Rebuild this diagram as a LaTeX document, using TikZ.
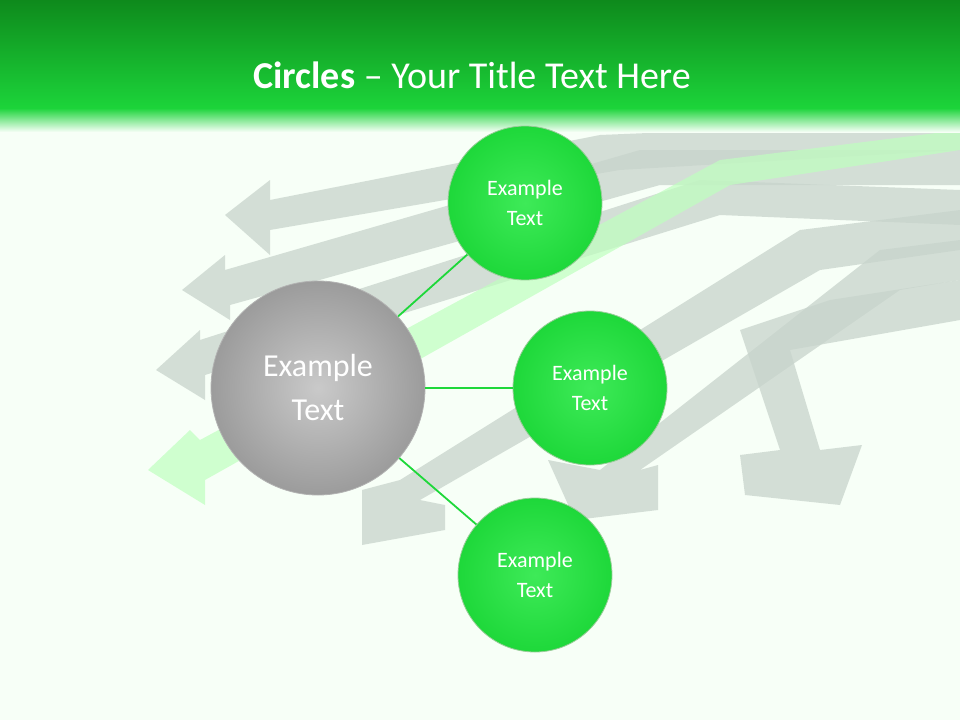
\documentclass[tikz,border=0pt]{standalone}
\usepackage{fontspec}
\setmainfont{Carlito}
\definecolor{gmain}{HTML}{1ED83A}
\definecolor{glight}{HTML}{3EEA58}
\definecolor{gtop}{HTML}{0E8A1C}
\definecolor{gband}{HTML}{1CD43A}
\definecolor{bargray}{HTML}{C8D4CC}
\begin{document}
\begin{tikzpicture}[x=1pt,y=-1pt,
  bar/.style={fill=bargray,opacity=0.75},
  gc/.style={circle,minimum size=154pt,draw=green!50!black!40,line width=0.8pt,inner color=glight,outer color=gmain,text=white,font=\fontsize{22}{30}\selectfont,align=center},
  link/.style={draw=gmain,line width=1.8pt}]
\useasboundingbox (0,0) rectangle (960,720);
\fill[green!3] (0,0) rectangle (960,720);
% decorative arrows
\fill[bar] (270,200) -- (600,135) -- (960,120) -- (960,150) -- (620,170) -- (270,230) -- (270,255) -- (225,215) -- (270,180) -- cycle;
\fill[bar] (225,270) -- (640,150) -- (960,150) -- (960,185) -- (660,185) -- (230,305) -- (230,320) -- (182,290) -- (225,255) -- cycle;
\fill[bar] (200,340) -- (700,180) -- (960,190) -- (960,225) -- (720,215) -- (205,375) -- (205,400) -- (156,370) -- (200,330) -- cycle;
\fill[green!25,opacity=0.7] (200,440) -- (720,160) -- (960,130) -- (960,150) -- (730,185) -- (205,480) -- (205,505) -- (148,470) -- (190,430) -- cycle;
\fill[bar] (400,480) -- (800,230) -- (960,210) -- (960,250) -- (820,270) -- (420,500) -- (445,505) -- (445,530) -- (362,545) -- (362,490) -- cycle;
\fill[bar] (600,470) -- (880,250) -- (960,240) -- (960,280) -- (900,290) -- (640,470) -- (658,465) -- (658,510) -- (575,520) -- (548,460) -- cycle;
\fill[bar] (740,330) -- (830,300) -- (960,280) -- (960,320) -- (790,350) -- (820,450) -- (862,445) -- (840,505) -- (745,495) -- (740,455) -- (780,450) -- cycle;
% header band
\shade[top color=gtop, bottom color=gband] (0,0) rectangle (960,108);
\shade[top color=gband, bottom color=green!3] (0,108) rectangle (960,132);
\node[text=white,font=\fontsize{38}{44}\selectfont] (title) at (472,75) {\textbf{Circles} – Your Title Text Here};
% circles
\node[circle,minimum size=214pt,draw=gray!60,line width=0.8pt,inner color=gray!80!black!35,outer color=gray!70!black!60,text=white,font=\fontsize{32}{44}\selectfont,align=center] (c) at (318,388) {Example\\Text};
\node[gc] (a) at (525,203) {Example\\Text};
\node[gc] (b) at (590,388) {Example\\Text};
\node[gc] (d) at (535,575) {Example\\Text};
\draw[link] (c) -- (a);
\draw[link] (c) -- (b);
\draw[link] (c) -- (d);
\end{tikzpicture}
\end{document}
